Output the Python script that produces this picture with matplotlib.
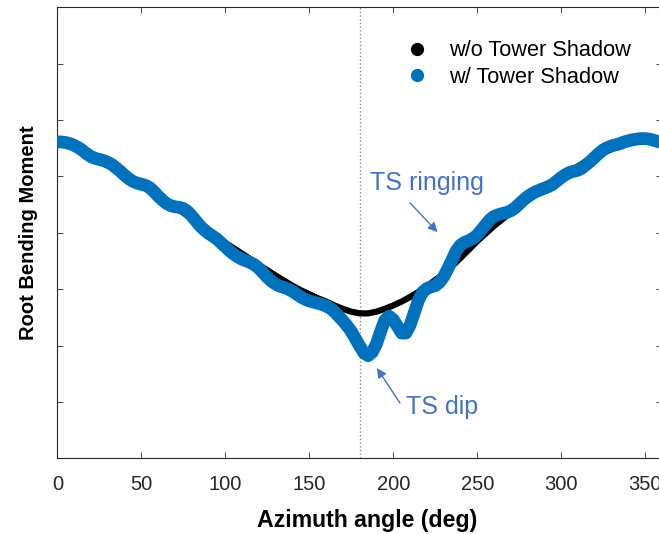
import matplotlib
matplotlib.use("Agg")
import matplotlib.pyplot as plt
from matplotlib.lines import Line2D

plt.rcParams['font.family'] = ['Liberation Sans', 'DejaVu Sans']

# blade root bending moment over one rotor revolution (arbitrary units)
azimuth_no_ts = [0, 10, 20, 30, 40, 50, 60, 70, 80, 90, 100, 110, 120, 130, 140, 145,
                 150, 155, 160, 165, 170, 175, 180, 185, 190, 195, 200, 205, 210, 215,
                 220, 225, 230, 235, 240, 245, 250, 260, 270, 280, 290, 300, 310, 320,
                 330, 340, 350, 360]
moment_no_ts = [5.61, 5.52, 5.38, 5.22, 5.04, 4.86, 4.66, 4.46, 4.25, 4.03, 3.82,
                3.63, 3.43, 3.24, 3.06, 2.98, 2.91, 2.84, 2.78, 2.71, 2.65, 2.60,
                2.57, 2.57, 2.60, 2.65, 2.71, 2.78, 2.86, 2.95, 3.05, 3.16, 3.27,
                3.41, 3.55, 3.70, 3.85, 4.12, 4.36, 4.58, 4.78, 4.99, 5.18, 5.35,
                5.49, 5.59, 5.64, 5.62]

azimuth_ts = [0, 2.5, 5, 7.5, 10, 12.5, 15, 17.5, 20, 22.5, 25, 27.5, 30, 32.5, 35,
              37.5, 40, 42.5, 45, 47.5, 50, 52.5, 55, 57.5, 60, 62.5, 65, 67.5, 70,
              72.5, 75, 77.5, 80, 82.5, 85, 87.5, 90, 92.5, 95, 97.5, 100, 102.5, 105,
              107.5, 110, 112.5, 115, 117.5, 120, 122.5, 125, 127.5, 130, 132.5, 135,
              137.5, 140, 142.5, 145, 147.5, 150, 152.5, 155, 157.5, 160, 162.5, 165,
              167.5, 170, 172.5, 175, 177.5, 180, 182.5, 185, 187.5, 190, 192.5, 195,
              197.5, 200, 202.5, 205, 207.5, 210, 212.5, 215, 217.5, 220, 222.5, 225,
              227.5, 230, 232.5, 235, 237.5, 240, 242.5, 245, 247.5, 250, 252.5, 255,
              257.5, 260, 262.5, 265, 267.5, 270, 272.5, 275, 277.5, 280, 282.5, 285,
              287.5, 290, 292.5, 295, 297.5, 300, 302.5, 305, 307.5, 310, 312.5, 315,
              317.5, 320, 322.5, 325, 327.5, 330, 332.5, 335, 337.5, 340, 342.5, 345,
              347.5, 350, 352.5, 355, 357.5, 360]
moment_ts = [5.61, 5.61, 5.60, 5.58, 5.55, 5.51, 5.46, 5.40, 5.35, 5.32, 5.30, 5.28,
             5.25, 5.21, 5.15, 5.09, 5.02, 4.96, 4.91, 4.88, 4.86, 4.84, 4.80, 4.73,
             4.65, 4.58, 4.52, 4.48, 4.46, 4.45, 4.43, 4.38, 4.30, 4.21, 4.12, 4.05,
             3.99, 3.94, 3.89, 3.82, 3.75, 3.68, 3.62, 3.57, 3.53, 3.50, 3.47, 3.43,
             3.37, 3.29, 3.21, 3.14, 3.09, 3.05, 3.03, 3.00, 2.96, 2.91, 2.86, 2.82,
             2.79, 2.77, 2.75, 2.73, 2.70, 2.66, 2.60, 2.52, 2.44, 2.35, 2.25, 2.12,
             1.99, 1.87, 1.82, 1.88, 2.03, 2.25, 2.45, 2.52, 2.46, 2.34, 2.22, 2.22,
             2.36, 2.58, 2.80, 2.95, 3.01, 3.04, 3.06, 3.12, 3.22, 3.36, 3.52, 3.68,
             3.78, 3.83, 3.86, 3.90, 3.96, 4.05, 4.14, 4.23, 4.29, 4.32, 4.34, 4.36,
             4.39, 4.44, 4.51, 4.58, 4.64, 4.69, 4.73, 4.76, 4.79, 4.82, 4.86, 4.92,
             4.98, 5.03, 5.07, 5.09, 5.11, 5.15, 5.21, 5.27, 5.34, 5.41, 5.47, 5.51,
             5.54, 5.56, 5.58, 5.61, 5.63, 5.65, 5.66, 5.67, 5.67, 5.66, 5.64, 5.62,
             5.60]

xticks = [0, 50, 100, 150, 200, 250, 300, 350]
yticks = [0, 1, 2, 3, 4, 5, 6, 7, 8]

blue = '#0072BD'
note = '#4472C4'
dark = '#262626'

fig = plt.figure(figsize=(6.59, 5.34), dpi=100)
ax = fig.add_axes([0.087, 0.1418, 0.9175, 0.8447])

ax.axvline(180, color='#8c8c8c', linestyle=':', linewidth=1.0, zorder=1)
ax.plot(azimuth_no_ts, moment_no_ts, color='black', linewidth=4.5,
        solid_capstyle='round', solid_joinstyle='round', zorder=2)
ax.plot(azimuth_ts, moment_ts, color=blue, linewidth=9.2,
        solid_capstyle='round', solid_joinstyle='round', zorder=3)

ax.set_xlim(0, 360)
ax.set_ylim(0, 8)
ax.set_xticks(xticks)
ax.set_yticks(yticks)
ax.set_yticklabels([])
ax.tick_params(direction='in', length=4.3, width=0.6, color=dark,
               labelcolor=dark, labelsize=14.5, top=True, right=True, pad=12)
for sp in ax.spines.values():
    sp.set_color(dark)
    sp.set_linewidth(0.8)

ax.set_xlabel('Azimuth angle (deg)', fontsize=16.7, fontweight='bold', labelpad=11)
ax.xaxis.label.set_x(0.512)
ax.set_ylabel('Root Bending Moment', fontsize=14.5, fontweight='bold', labelpad=2)

handles = [Line2D([], [], marker='o', linestyle='none', color='black', markersize=8.5),
           Line2D([], [], marker='o', linestyle='none', color=blue, markersize=8.5)]
ax.legend(handles, ['w/o Tower Shadow', 'w/ Tower Shadow'], loc='upper left',
          bbox_to_anchor=(0.5767, 0.927), frameon=False, fontsize=15.7,
          handlelength=1.0, handletextpad=0.95, labelspacing=0.27,
          borderpad=0, borderaxespad=0)

# labels and arrows pointing at the tower shadow effects
ax.text(186, 4.88, 'TS ringing', color=note, fontsize=18, va='center', ha='left')
ax.annotate('', xy=(226.4, 4.01), xytext=(210, 4.53),
            arrowprops=dict(arrowstyle='-|>', color=note, lw=1.0,
                            mutation_scale=14, shrinkA=0, shrinkB=0))
ax.text(207.5, 0.915, 'TS dip', color=note, fontsize=18, va='center', ha='left')
ax.annotate('', xy=(190.3, 1.6), xytext=(204, 0.98),
            arrowprops=dict(arrowstyle='-|>', color=note, lw=1.0,
                            mutation_scale=14, shrinkA=0, shrinkB=0))

fig.savefig('out.png', dpi=100)
